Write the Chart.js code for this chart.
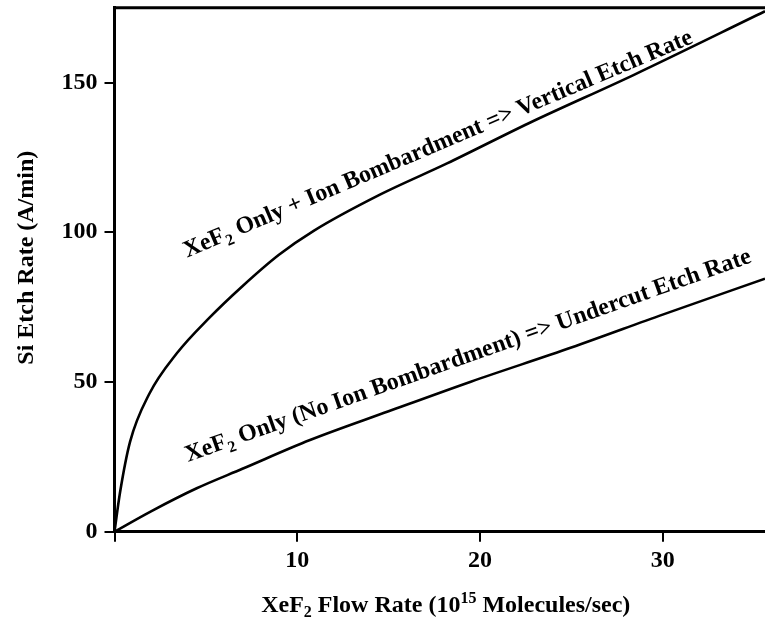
<!DOCTYPE html>
<html><head><meta charset="utf-8">
<script src="https://cdn.jsdelivr.net/npm/chart.js@4.4.1/dist/chart.umd.min.js"></script>
<style>html,body{margin:0;padding:0;background:#fff}canvas{display:block}</style>
</head><body>
<canvas id="c" width="765" height="622"></canvas>
<script>
// ---- data ----
const ionX   = [0, 0.3, 0.85, 1.9, 3.4, 5.2, 7.0, 9.0, 10.9, 14.5, 18.2, 22.7, 28.4, 35.6];
const ionY   = [0, 13, 30, 46, 59.5, 71.5, 82, 92.5, 100.5, 112.5, 123, 136.5, 152.5, 173.8];
const noIonX = [0, 2, 4.5, 7, 10.7, 15, 19.5, 25, 30, 35.6];
const noIonY = [0, 6.8, 14.5, 21, 30.6, 40.2, 50.1, 61.5, 72.5, 84.5];
const xTickValues = [10, 20, 30];
const yTickValues = [0, 50, 100, 150];
const xRange = [0, 35.6];
const yRange = [0, 175];
const yTitle = 'Si Etch Rate (A/min)';
const xTitleRuns = [['XeF',''],['2','sub'],[' Flow Rate (10',''],['15','sup'],[' Molecules/sec)','']];
const ionLabelRuns = [['XeF',''],['2','sub'],[' Only + Ion Bombardment => Vertical Etch Rate','']];
const noIonLabelRuns = [['XeF',''],['2','sub'],[' Only (No Ion Bombardment) => Undercut Etch Rate','']];
const ionLabelAnchor = [3.97, 91.5];
const noIonLabelAnchor = [4.02, 23.3];

const FONT = '"Liberation Serif", "Times New Roman", serif';
const FS = 24;
function pts(xs, ys){ return xs.map((x,i)=>({x:x, y:ys[i]})); }

function drawRuns(ctx, runs, size, align){
  const small = Math.round(size*0.68);
  let total = 0;
  const widths = runs.map(([t,k])=>{
    ctx.font = 'bold ' + (k ? small : size) + 'px ' + FONT;
    const w = ctx.measureText(t).width; total += w; return w;
  });
  let x = align === 'center' ? -total/2 : 0;
  runs.forEach(([t,k],i)=>{
    ctx.font = 'bold ' + (k ? small : size) + 'px ' + FONT;
    const dy = k === 'sub' ? size*0.22 : (k === 'sup' ? -size*0.38 : 0);
    ctx.fillText(t, x, dy);
    x += widths[i];
  });
}

const textPlugin = {
  id: 'texts',
  afterDraw(chart){
    const ctx = chart.ctx, a = chart.chartArea;
    const xs = chart.scales.x, ys = chart.scales.y;
    ctx.save();
    ctx.fillStyle = '#000';
    ctx.strokeStyle = '#000';
    // top frame line
    ctx.lineWidth = 3;
    ctx.beginPath(); ctx.moveTo(a.left, a.top); ctx.lineTo(a.right, a.top); ctx.stroke();
    ctx.textBaseline = 'alphabetic';
    // y title
    ctx.save();
    ctx.translate(33, (a.top + a.bottom)/2 - 12);
    ctx.rotate(-Math.PI/2);
    ctx.textAlign = 'center';
    ctx.font = 'bold ' + FS + 'px ' + FONT;
    ctx.fillText(yTitle, 0, 0);
    ctx.restore();
    // x title
    ctx.save();
    ctx.translate((a.left + a.right)/2 + 6, 612);
    ctx.textAlign = 'left';
    drawRuns(ctx, xTitleRuns, FS, 'center');
    ctx.restore();
    // curve labels
    ctx.save();
    ctx.translate(xs.getPixelForValue(ionLabelAnchor[0]), ys.getPixelForValue(ionLabelAnchor[1]));
    ctx.rotate(-23 * Math.PI/180);
    ctx.textAlign = 'left';
    drawRuns(ctx, ionLabelRuns, FS, 'left');
    ctx.restore();
    ctx.save();
    ctx.translate(xs.getPixelForValue(noIonLabelAnchor[0]), ys.getPixelForValue(noIonLabelAnchor[1]));
    ctx.rotate(-19.5 * Math.PI/180);
    ctx.textAlign = 'left';
    drawRuns(ctx, noIonLabelRuns, FS, 'left');
    ctx.restore();
    ctx.restore();
  }
};

new Chart(document.getElementById('c'), {
  type: 'scatter',
  data: {
    datasets: [
      { label: 'XeF2 Only + Ion Bombardment', data: pts(ionX, ionY), showLine: true,
        borderColor: '#000', borderWidth: 2.6, pointRadius: 0, cubicInterpolationMode: 'monotone', fill: false },
      { label: 'XeF2 Only (No Ion Bombardment)', data: pts(noIonX, noIonY), showLine: true,
        borderColor: '#000', borderWidth: 2.6, pointRadius: 0, cubicInterpolationMode: 'monotone', fill: false }
    ]
  },
  options: {
    responsive: false,
    animation: false,
    devicePixelRatio: 1,
    layout: { padding: { top: 7.7, right: 0, left: 0, bottom: 0 } },
    plugins: { legend: { display: false }, tooltip: { enabled: false } },
    scales: {
      x: {
        type: 'linear', min: xRange[0], max: xRange[1],
        afterFit(s){ s.height = 90.3; s.paddingLeft = 0; s.paddingRight = 0; },
        afterBuildTicks(s){ s.ticks = [0].concat(xTickValues).map(v=>({value:v})); },
        grid: { drawOnChartArea: false, drawTicks: true, tickLength: 10, color: '#000', lineWidth: 2 },
        border: { display: true, color: '#000', width: 3 },
        ticks: { color: '#000', padding: 5, maxRotation: 0,
          font: { family: FONT, size: FS, weight: 'bold' },
          callback: v => xTickValues.includes(v) ? String(v) : '' }
      },
      y: {
        type: 'linear', min: yRange[0], max: yRange[1],
        afterFit(s){ s.width = 114.5; s.paddingTop = 0; s.paddingBottom = 0; },
        afterBuildTicks(s){ s.ticks = yTickValues.map(v=>({value:v})); },
        grid: { drawOnChartArea: false, drawTicks: true, tickLength: 10, color: '#000', lineWidth: 2 },
        border: { display: true, color: '#000', width: 3 },
        ticks: { color: '#000', padding: 7,
          font: { family: FONT, size: FS, weight: 'bold' },
          callback: v => String(v) }
      }
    }
  },
  plugins: [textPlugin]
});
</script>
</body></html>
